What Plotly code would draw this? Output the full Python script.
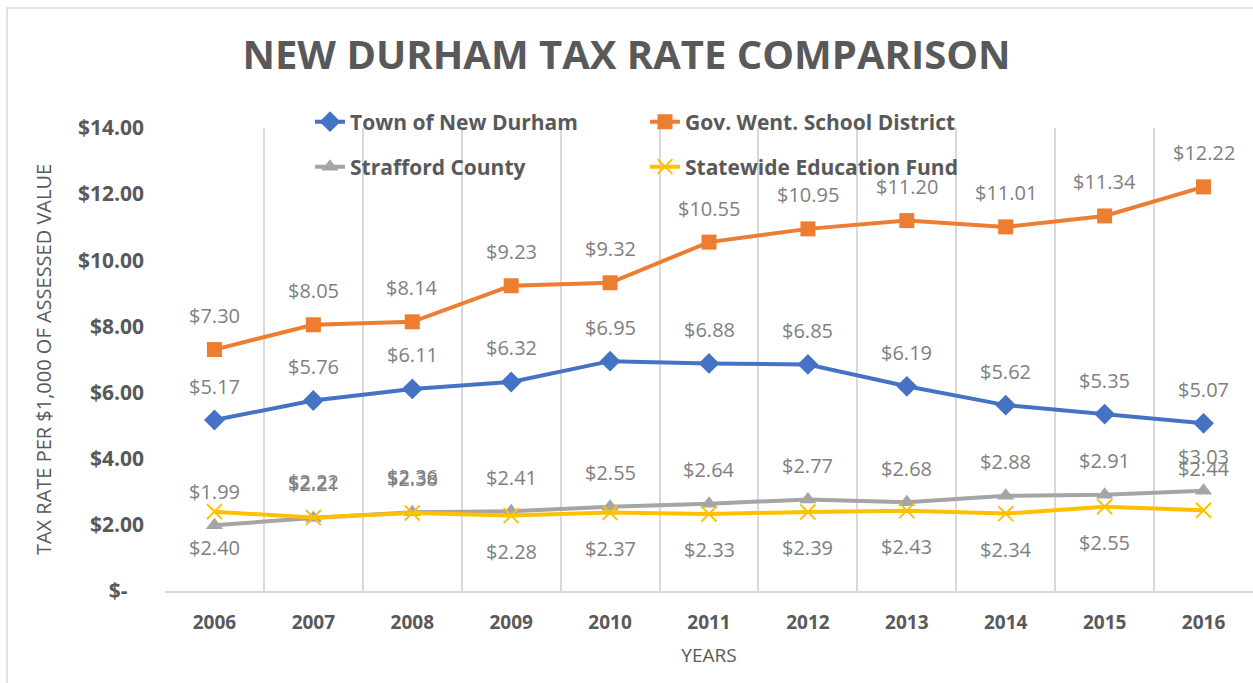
import plotly.graph_objects as go

years = ["2006", "2007", "2008", "2009", "2010", "2011", "2012", "2013", "2014", "2015", "2016"]
town = [5.17, 5.76, 6.11, 6.32, 6.95, 6.88, 6.85, 6.19, 5.62, 5.35, 5.07]
school = [7.30, 8.05, 8.14, 9.23, 9.32, 10.55, 10.95, 11.20, 11.01, 11.34, 12.22]
county = [1.99, 2.21, 2.38, 2.41, 2.55, 2.64, 2.77, 2.68, 2.88, 2.91, 3.03]
state = [2.40, 2.22, 2.36, 2.28, 2.37, 2.33, 2.39, 2.43, 2.34, 2.55, 2.44]
ytick_vals = [0, 2, 4, 6, 8, 10, 12, 14]
ytick_text = ["$-\u00a0\u00a0\u00a0", "$2.00", "$4.00", "$6.00", "$8.00", "$10.00", "$12.00", "$14.00"]

W, H = 1253, 683
L, R, T, B = 165, 0, 128, 92
PW, PH = W - L - R, H - T - B

BLUE, ORANGE, GRAY, YELLOW = "#4472C4", "#ED7D31", "#A5A5A5", "#FFC000"
TXT = "#595959"
LBL = "#7F7F7F"
GRID = "#D9D9D9"
FONT = "Open Sans"

fig = go.Figure()
series = [
    ("Town of New Durham", town, BLUE, dict(symbol="diamond", size=16, color=BLUE), "legend"),
    ("Gov. Went. School District", school, ORANGE, dict(symbol="square", size=15, color=ORANGE), "legend"),
    ("Strafford County", county, GRAY, dict(symbol="triangle-up", size=15, color=GRAY), "legend2"),
    ("Statewide Education Fund", state, YELLOW,
     dict(symbol="x-thin", size=15, color=YELLOW, line=dict(color=YELLOW, width=2)), "legend2"),
]
for name, vals, col, mk, lg in series:
    fig.add_trace(go.Scatter(x=years, y=vals, name=name, mode="lines+markers",
                             line=dict(color=col, width=4), marker=mk, legend=lg))

# data label offsets (px): above for most, below for statewide fund except where moved up
def shift_for(series_idx, i):
    if series_idx in (0, 1, 2):
        return 34
    if years[i] in ("2007", "2008"):
        return 36
    if years[i] == "2016":
        return 42
    return -36

for si, (name, vals, col, mk, lg) in enumerate(series):
    for i, v in enumerate(vals):
        fig.add_annotation(x=i, y=v, text=f"${v:.2f}", showarrow=False,
                           yshift=shift_for(si, i), xanchor="center", yanchor="middle",
                           font=dict(family=FONT, size=20, color=LBL))

legend_common = dict(orientation="h", xref="container", yref="container",
                     x=310 / W, xanchor="left", yanchor="middle",
                     entrywidth=290, font=dict(family=FONT, size=21, color=TXT, weight="bold"),
                     bgcolor="rgba(0,0,0,0)")
fig.update_layout(
    width=W, height=H,
    margin=dict(l=L, r=R, t=T, b=B, autoexpand=False),
    paper_bgcolor="white", plot_bgcolor="white",
    title=dict(text="<b>NEW DURHAM TAX RATE COMPARISON</b>", x=0.5, xanchor="center",
               y=1 - 55 / H, yanchor="middle", yref="container",
               font=dict(family=FONT, size=40, color=TXT)),
    legend=dict(y=1 - 122 / H, **legend_common),
    legend2=dict(y=1 - 167 / H, **legend_common),
    showlegend=True,
)
fig.update_xaxes(type="category", tickson="boundaries", showgrid=True, gridcolor=GRID, gridwidth=1.5,
                 showline=True, linecolor=GRID, linewidth=1.5, ticks="", ticklabelstandoff=13,
                 tickfont=dict(family=FONT, size=19, color=TXT, weight="bold"),
                 title=dict(text="YEARS", font=dict(family=FONT, size=19, color=TXT), standoff=15),
                 range=[-0.5, 10.5], zeroline=False, fixedrange=True, automargin=False)
fig.update_yaxes(range=[0, 14], tickvals=ytick_vals, ticktext=ytick_text, showgrid=False,
                 zeroline=False, showline=False, ticks="", ticklabelstandoff=20,
                 tickfont=dict(family=FONT, size=21, color=TXT, weight="bold"),
                 title=dict(text="TAX RATE PER $1,000 OF ASSESSED VALUE",
                            font=dict(family=FONT, size=20, color=TXT), standoff=20),
                 automargin=False, fixedrange=True)

# chart border
fig.add_shape(type="rect", xref="paper", yref="paper",
              x0=(7 - L) / PW, x1=1.2, y0=-0.5, y1=(H - B - 8) / PH,
              line=dict(color=GRID, width=1.5), layer="below")

fig.write_html("out.html", config={"displayModeBar": False},
               post_script="document.body.style.margin='0';document.body.style.padding='0';")
